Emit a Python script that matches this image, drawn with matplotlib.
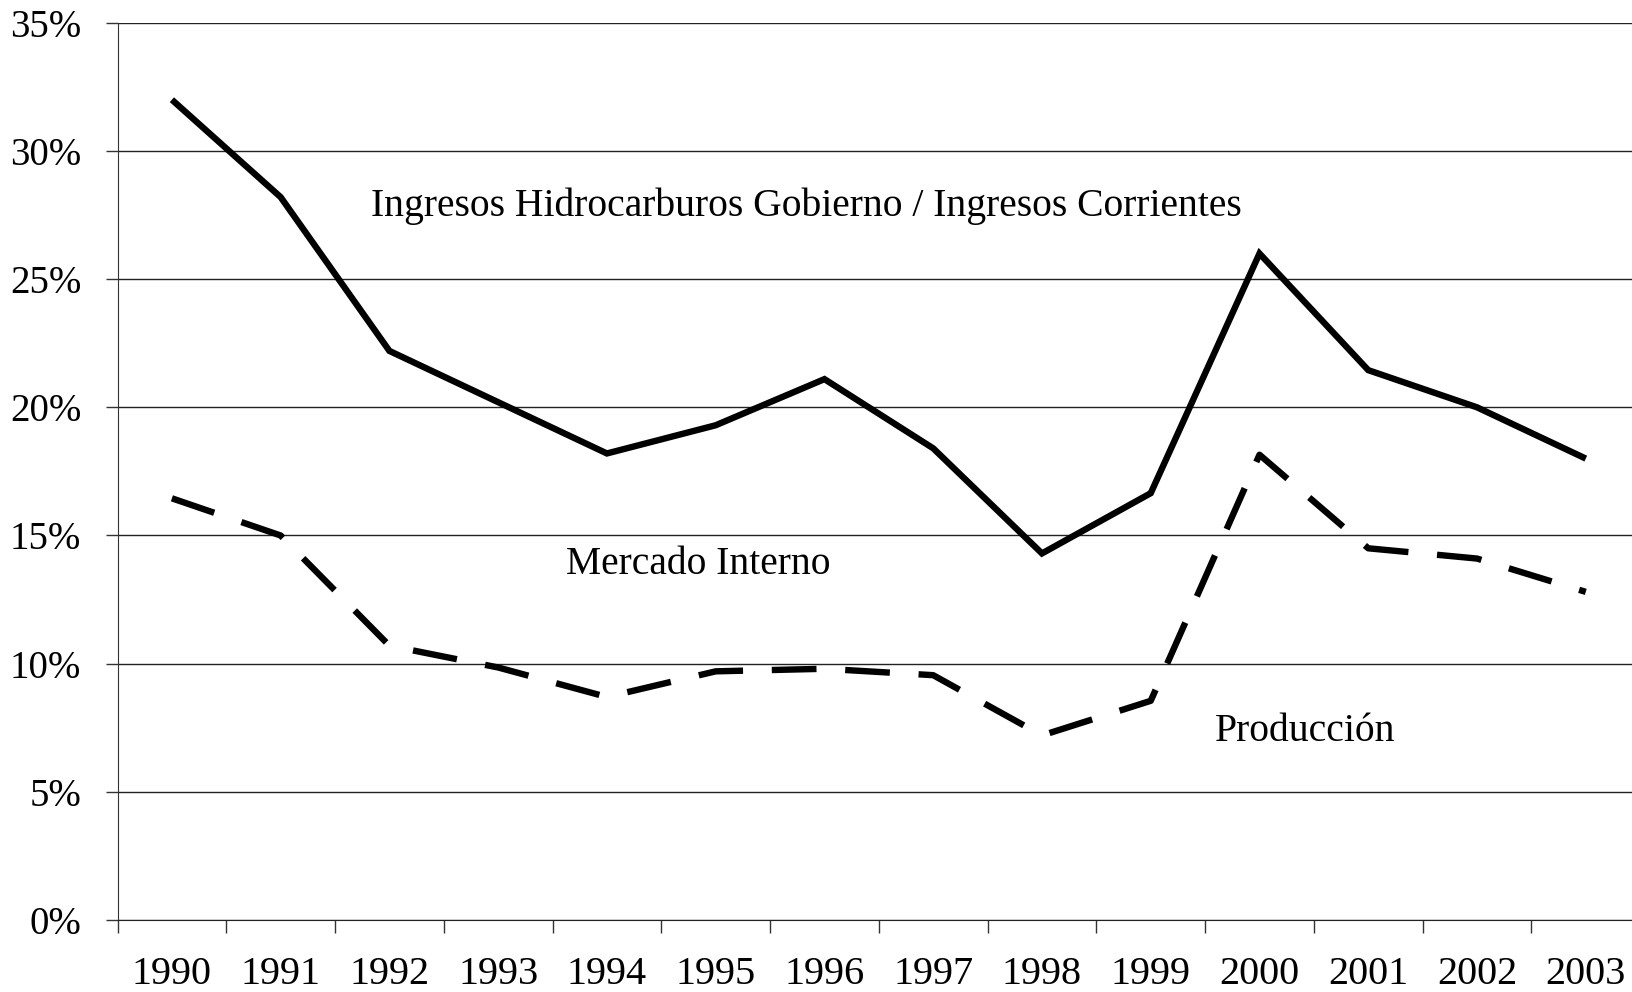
import matplotlib
matplotlib.use("Agg")
import matplotlib.pyplot as plt
from matplotlib.ticker import PercentFormatter, FixedLocator, NullFormatter
import numpy as np

years = ["1990", "1991", "1992", "1993", "1994", "1995", "1996",
         "1997", "1998", "1999", "2000", "2001", "2002", "2003"]
ingresos = [32.0, 28.2, 22.2, 20.2, 18.2, 19.3, 21.1,
            18.4, 14.3, 16.65, 26.0, 21.45, 20.0, 18.0]
mercado = [16.45, 15.0, 10.7, 9.85, 8.7, 9.7, 9.8,
           9.55, 7.2, 8.55, 18.15, 14.5, 14.1, 12.8]
yticks = [0, 5, 10, 15, 20, 25, 30, 35]

plt.rcParams['font.family'] = ['Liberation Serif', 'DejaVu Serif']

fig = plt.figure(figsize=(16.32, 9.92), dpi=100)
ax = fig.add_axes([0.072, 0.0726, 0.933, 0.9044])

x = np.arange(len(years))
ax.plot(x, ingresos, color='black', lw=4.6, solid_joinstyle='miter', solid_capstyle='butt', zorder=3)
ax.plot(x, mercado, color='black', lw=4.6, dashes=(7, 4.5), dash_capstyle='butt', zorder=3)

ax.set_xlim(-0.5, len(years) - 0.5)
ax.set_ylim(0, 35)
ax.set_yticks(yticks)
ax.yaxis.set_major_formatter(PercentFormatter(decimals=0))
ax.grid(axis='y', color='#222222', lw=1.0)
ax.set_axisbelow(True)

ax.set_xticks(x)
ax.set_xticklabels(years)
ax.xaxis.set_minor_locator(FixedLocator(np.arange(-0.5, len(years), 1.0)))
ax.xaxis.set_minor_formatter(NullFormatter())
ax.tick_params(axis='x', which='major', length=0, pad=26, labelsize=29)
ax.tick_params(axis='x', which='minor', length=9, width=1.0, color='#333333', direction='out')
ax.tick_params(axis='y', length=9, width=1.0, color='#333333', pad=17, labelsize=28)

for s in ['top', 'right']:
    ax.spines[s].set_visible(False)
ax.spines['left'].set_color('#333333')
ax.spines['bottom'].set_color('#222222')

ax.text(5.83, 27.85, "Ingresos Hidrocarburos Gobierno / Ingresos Corrientes",
        ha='center', va='center', fontsize=28.5)
ax.text(4.84, 13.85, "Mercado Interno", ha='center', va='center', fontsize=28.5)
ax.text(10.42, 7.35, "Producción", ha='center', va='center', fontsize=28.5)

fig.savefig("out.png", dpi=100)
